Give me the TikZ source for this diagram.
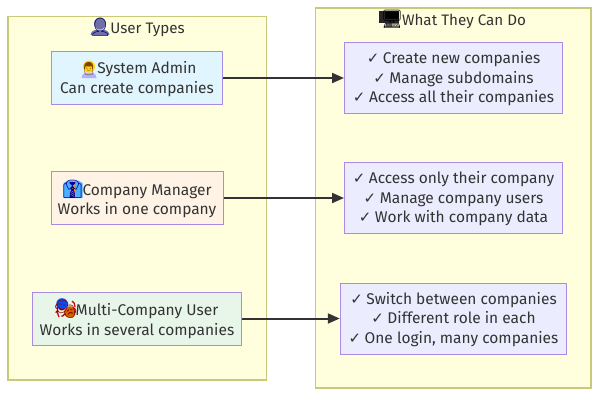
\documentclass[tikz,border=0pt]{standalone}
\usepackage{fontspec}
\setmainfont{Fira Sans}
\newfontfamily\emo{Noto Emoji}
\newfontfamily\chk{DejaVu Sans}
\usetikzlibrary{arrows.meta,positioning}
\definecolor{clfill}{HTML}{FFFFDE}
\definecolor{clline}{HTML}{C9C97A}
\definecolor{nodeline}{HTML}{A98BE6}
\definecolor{ink}{HTML}{333333}
\definecolor{fa}{HTML}{E1F5FE}
\definecolor{fb}{HTML}{FFF3E6}
\definecolor{fc}{HTML}{E8F5E9}
\definecolor{fd}{HTML}{ECECFF}
\newcommand{\ck}{{\chk\fontsize{15}{15}\selectfont ✓}\hspace{3.5pt}}
\newcommand{\emj}[3]{\makebox[#2][c]{\textcolor{#1}{\emo\fontsize{18}{18}\selectfont #3}}}
\newcommand{\emjs}[3]{\makebox[#2][c]{\textcolor{#1}{\emo\fontsize{13}{13}\selectfont #3}}}
\tikzset{
  cluster/.style={draw=clline,fill=clfill,line width=1.2pt},
  ntext/.style={text=ink,align=center,font=\fontsize{15.5}{19.6}\selectfont,inner sep=0pt},
  box/.style={draw=nodeline,line width=1pt},
  flow/.style={draw=ink,line width=2pt,-{Triangle[length=12pt,width=10pt]}},
  ttl/.style={text=ink,font=\fontsize{15.2}{19}\selectfont,inner sep=0pt}
}
\begin{document}
\begin{tikzpicture}[x=1pt,y=-1pt]
\useasboundingbox (0,0) rectangle (607,402);
\fill[white] (0,0) rectangle (607,402);
\draw[cluster] (8,16.5) rectangle (266.5,380);
\draw[cluster] (315.5,8) rectangle (591,388);
\node[box,fill=fa,minimum width=171pt,minimum height=53pt] (a) at (137,78) {};
\node[box,fill=fb,minimum width=172pt,minimum height=53pt] (b) at (137,198) {};
\node[box,fill=fc,minimum width=209pt,minimum height=53pt] (c) at (137,318.5) {};
\node[box,fill=fd,minimum width=218pt,minimum height=71pt] (d) at (453.5,78) {};
\node[box,fill=fd,minimum width=218pt,minimum height=71pt] (e) at (453.5,198) {};
\node[box,fill=fd,minimum width=226.5pt,minimum height=71pt] (f) at (453.5,318.5) {};
% icon colour underlays
\fill[blue!25!gray!90] (100,23.5) circle (6);
\fill[blue!25!gray!90] (90.5,35) .. controls (91,30) and (96,29.5) .. (100,29.5) .. controls (104,29.5) and (109,30) .. (109.5,35) -- cycle;
\fill[blue!30!white] (81.5,78) .. controls (82,73) and (85,72.5) .. (89,72.5) .. controls (93,72.5) and (96,73) .. (96.5,78) -- cycle;
\fill[yellow!75!orange] (89,66.5) circle (6);
\fill[blue!45!cyan!70!white] (63.5,198) -- (63.5,183) -- (68,180.5) -- (78,180.5) -- (82.5,183) -- (82.5,198) -- cycle;
\fill[orange!80!yellow] (71,181) -- (75,181) -- (74.5,185) -- (76,197) -- (70,197) -- (71.5,185) -- cycle;
\draw[red!80!black,line width=1.2pt] (57.5,304) .. controls (57,310) and (57.5,314) .. (59,317);
\draw[red!80!black,line width=1.2pt] (72,301) .. controls (74,302) and (75,304) .. (75,307);
\fill[blue!70!cyan] (62,304) circle (5.8);
\fill[orange!80!black] (70,312) circle (5.8);
\fill[black!85] (379,11) rectangle (399,23);
\fill[black!45] (386,23) rectangle (392,27);
% text
\node[ttl] (t1) at (137.5,27) {\emj{blue!40!black}{20pt}{👤}User Types};
\node[ttl] (t2) at (454,19) {\emj{black}{20pt}{🖥}What They Can Do};
\node[ntext,yshift=-1pt] (ta) at (a) {\hspace*{3pt}\emjs{orange!50!black}{17pt}{👨}System Admin\\Can create companies};
\node[ntext,yshift=-1pt] (tb) at (b) {\emj{blue!60!black}{20pt}{👔}Company Manager\\Works in one company};
\node[ntext,yshift=-1pt] (tc) at (c) {\emj{red!60!black}{20pt}{🎭}Multi-Company User\\Works in several companies};
\node[ntext,yshift=-1pt] (td) at (d) {\ck Create new companies\\\ck Manage subdomains\\\ck Access all their companies};
\node[ntext,yshift=-1pt] (te) at (e) {\ck Access only their company\\\ck Manage company users\\\ck Work with company data};
\node[ntext,yshift=-1pt] (tf) at (f) {\ck Switch between companies\\\ck Different role in each\\\ck One login, many companies};
\draw[flow] (a) -- (d);
\draw[flow] (b) -- (e);
\draw[flow] (c) -- (f);
\end{tikzpicture}
\end{document}
